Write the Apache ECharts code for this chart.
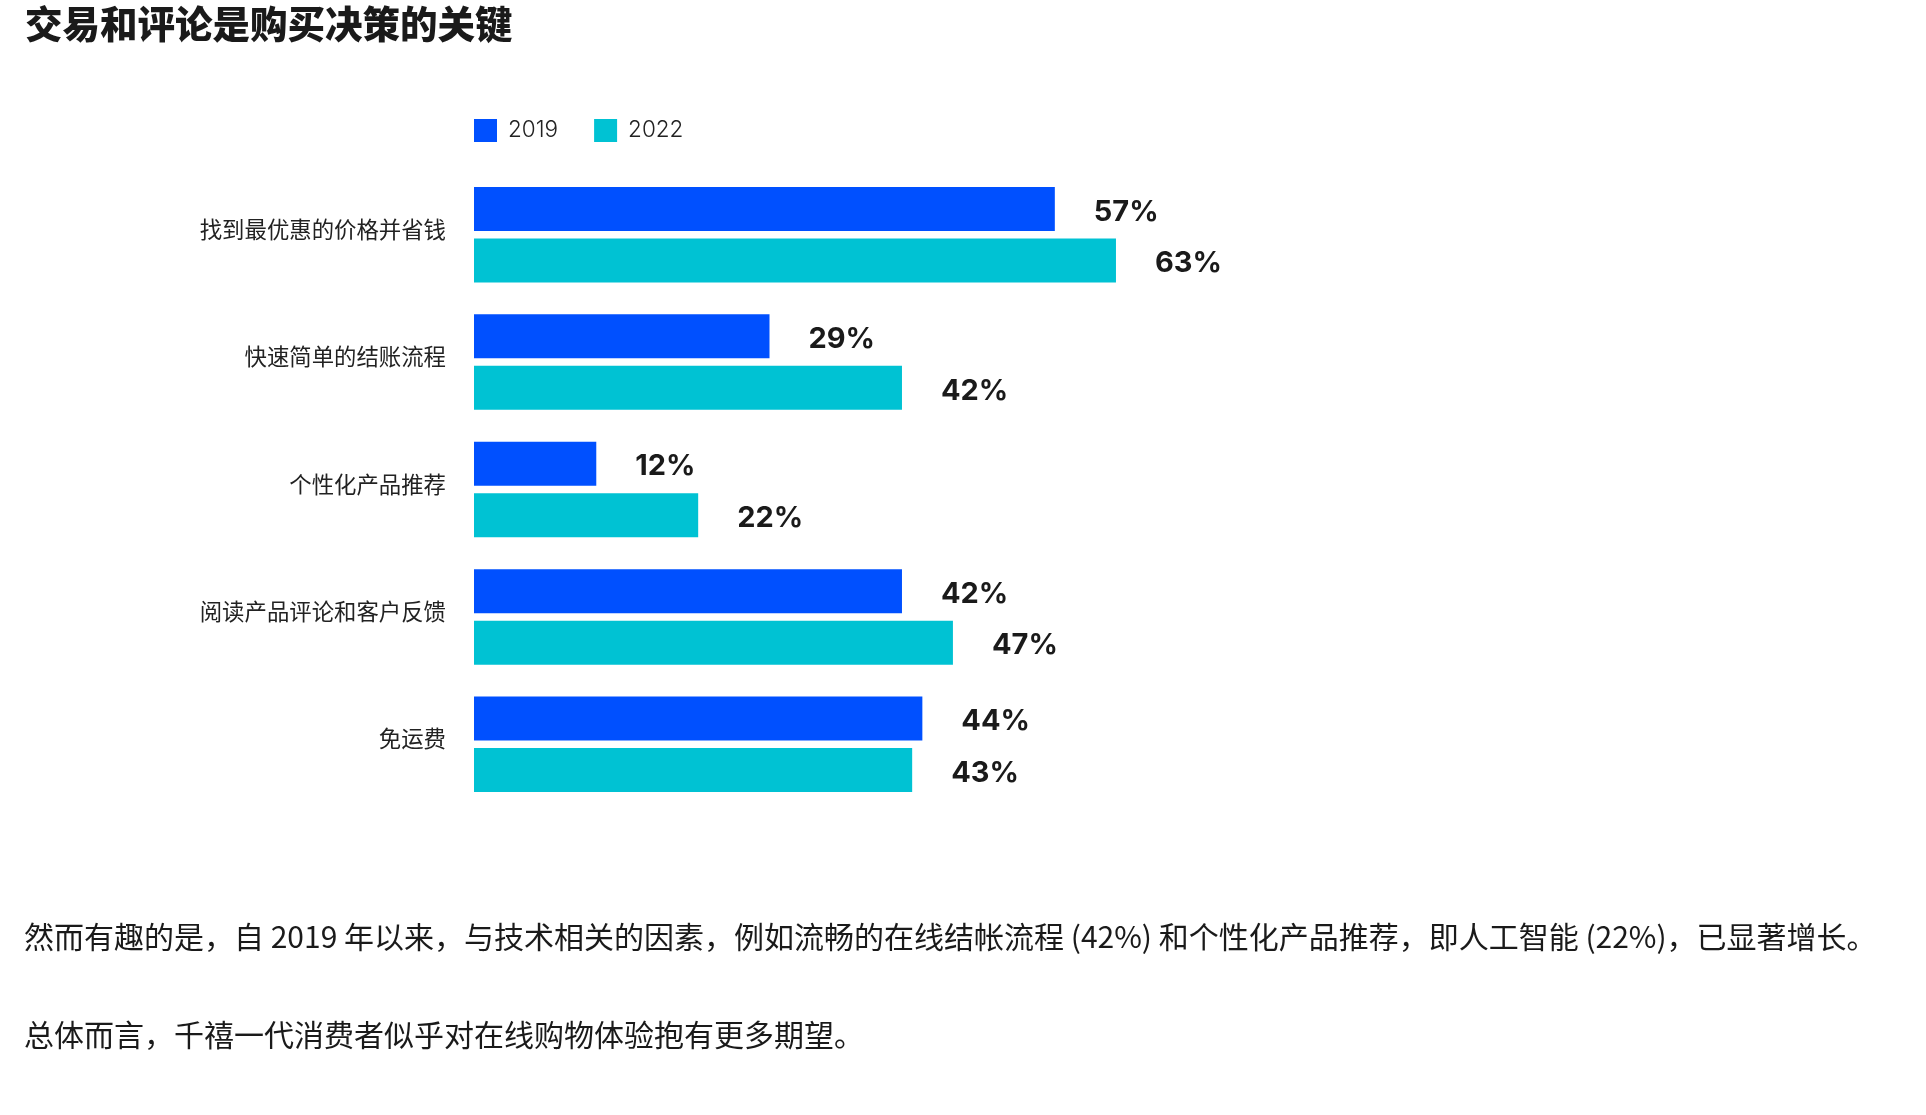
<!DOCTYPE html>
<html>
<head>
<meta charset="utf-8">
<script src="https://cdn.jsdelivr.net/npm/echarts@6/dist/echarts.min.js"></script>
<style>
html,body{margin:0;padding:0;background:#fff;}
#chart{width:1926px;height:1115px;}
</style>
</head>
<body>
<div id="chart"></div>
<script>
const titleText = '交易和评论是购买决策的关键';
const categories = ['找到最优惠的价格并省钱', '快速简单的结账流程', '个性化产品推荐', '阅读产品评论和客户反馈', '免运费'];
const seriesNames = ['2019', '2022'];
const values2019 = [57, 29, 12, 42, 44];
const values2022 = [63, 42, 22, 47, 43];
const bodyLines = [
  '然而有趣的是，自 2019 年以来，与技术相关的因素，例如流畅的在线结帐流程 (42%) 和个性化产品推荐，即人工智能 (22%)，已显著增长。',
  '总体而言，千禧一代消费者似乎对在线购物体验抱有更多期望。'
];

const CJK = '"Noto Sans CJK SC", "Noto Sans", sans-serif';
const LATIN = 'Inter, "Noto Sans", sans-serif';
const colors = ['#0050FF', '#00C2D3'];

const chart = echarts.init(document.getElementById('chart'), null, {renderer: 'canvas'});

const labelOpt = {
  show: true,
  position: 'right',
  distance: 39,
  offset: [0, 3],
  formatter: '{c}%',
  fontFamily: LATIN,
  fontWeight: 'bold',
  fontSize: 29,
  color: '#1a1a1a'
};

chart.setOption({
  backgroundColor: '#ffffff',
  animation: false,
  color: colors,
  title: {
    text: titleText,
    left: 20,
    top: 0,
    textStyle: {fontFamily: CJK, fontWeight: 900, fontSize: 37.5, color: '#1a1a1a'}
  },
  legend: {
    data: seriesNames,
    left: 469,
    top: 114,
    itemWidth: 23,
    itemHeight: 23,
    itemGap: 36,
    icon: 'rect',
    textStyle: {fontFamily: LATIN, fontSize: 22.5, fontWeight: 300, color: '#222', padding: [0, 0, 0, 6]}
  },
  grid: {left: 474, right: 433, top: 171, bottom: 307, containLabel: false},
  xAxis: {
    type: 'value', min: 0, max: 100, show: false
  },
  yAxis: {
    type: 'category',
    data: categories,
    inverse: true,
    axisLine: {show: false},
    axisTick: {show: false},
    axisLabel: {
      margin: 28,
      formatter: v => '{a|' + v + '}',
      rich: {a: {fontFamily: CJK, fontSize: 22.4, color: '#222', padding: [0, 0, 11, 0]}}
    }
  },
  series: [
    {name: seriesNames[0], type: 'bar', data: values2019, barWidth: 44, barGap: '17%', label: labelOpt},
    {name: seriesNames[1], type: 'bar', data: values2022, barWidth: 44, barGap: '17%', label: labelOpt}
  ],
  graphic: bodyLines.map((t, i) => ({
    type: 'text',
    left: 24,
    top: [942, 1040][i] - 20,
    style: {text: t, fontFamily: CJK, fontSize: 30, fill: '#1a1a1a'}
  }))
});
</script>
</body>
</html>
